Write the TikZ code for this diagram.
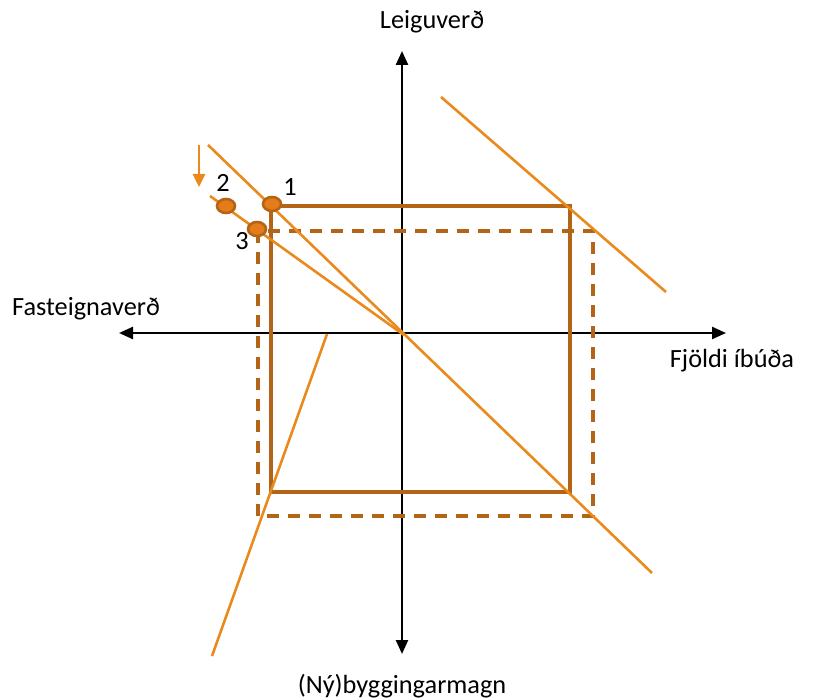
\documentclass[tikz,border=0pt]{standalone}
\usepackage{fontspec}
\setmainfont{Carlito}
\usetikzlibrary{arrows.meta,shapes.geometric}
\definecolor{lineor}{RGB}{234,138,28}
\definecolor{boxbr}{RGB}{180,100,22}
\definecolor{dotfill}{RGB}{228,124,26}
\begin{document}
\begin{tikzpicture}[x=1pt,y=-1pt,
  axis/.style={line width=2.4pt,-{Triangle[length=14pt,width=12pt]}},
  oline/.style={lineor,line width=2.6pt},
  boxline/.style={boxbr,line width=3.3pt},
  dashbox/.style={boxbr,line width=3.3pt,dash pattern=on 12pt off 9pt},
  pt/.style={ellipse,draw=boxbr,fill=dotfill,line width=2.6pt,minimum width=18pt,minimum height=14pt,inner sep=0pt},
  lbl/.style={font=\fontsize{26.3}{30}\selectfont,inner sep=0pt},
  num/.style={font=\fontsize{26.3}{30}\selectfont,inner sep=0pt}
]
\useasboundingbox (0,0) rectangle (818,700);
\coordinate (O) at (402,333);
\coordinate (top) at (402,51);
\coordinate (bot) at (402,654);
\coordinate (lft) at (119,333);
\coordinate (rgt) at (726,333);
\draw[axis] (O) -- (top);
\draw[axis] (O) -- (bot);
\draw[axis] (O) -- (lft);
\draw[axis] (O) -- (rgt);
% rectangles
\draw[dashbox] (258,231) rectangle (593,516);
\draw[boxline] (271,206) rectangle (570,492);
% orange lines
\coordinate (a1) at (208,145); \coordinate (a2) at (652,573);
\draw[oline] (a1) -- (a2);
\coordinate (b1) at (210,196); \coordinate (b2) at (404,335);
\draw[oline] (b1) -- (b2);
\coordinate (c1) at (441,97); \coordinate (c2) at (666,292);
\draw[oline] (c1) -- (c2);
\coordinate (d1) at (212,656); \coordinate (d2) at (327,334);
\draw[oline] (d1) -- (d2);
% arrow
\coordinate (ar1) at (199,145); \coordinate (ar2) at (199,187);
\draw[lineor,line width=2.6pt,-{Triangle[length=13pt,width=12pt]}] (ar1) -- (ar2);
% points
\node[pt] (p1) at (272,204) {};
\node[pt] (p2) at (226,206) {};
\node[pt] (p3) at (257,229) {};
\node[num] (n1) at (290,187) {1};
\node[num] (n2) at (223,183) {2};
\node[num] (n3) at (242,241) {3};
% labels
\node[lbl] (ly) at (432,22) {Leiguverð};
\node[lbl] (lx) at (86,309) {Fasteignaverð};
\node[lbl] (lr) at (732,361) {Fjöldi íbúða};
\node[lbl] (lb) at (402,686) {(Ný)byggingarmagn};
\end{tikzpicture}
\end{document}
